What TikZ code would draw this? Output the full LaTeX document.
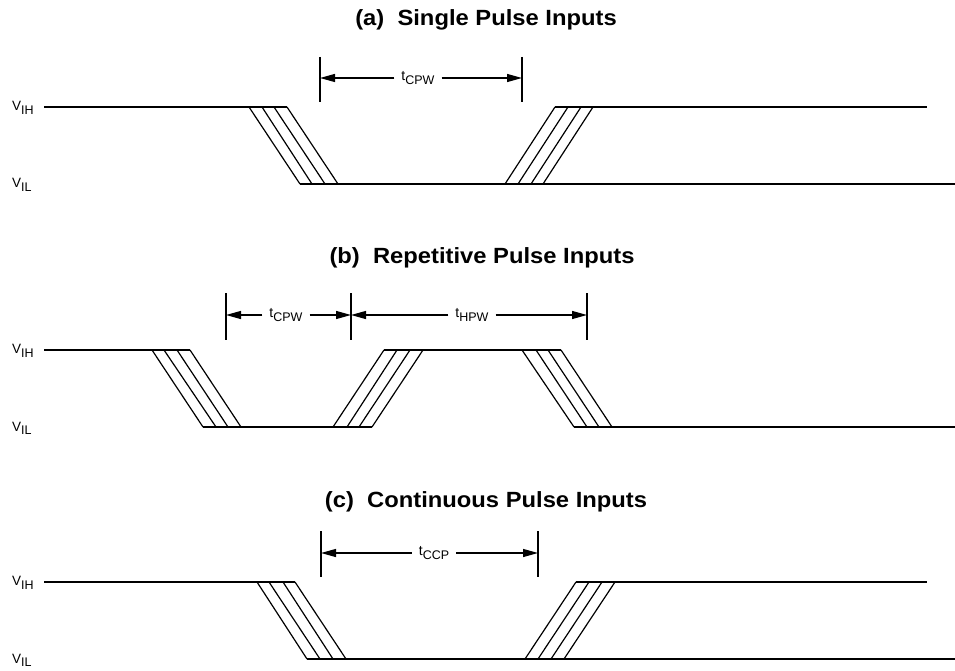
\documentclass[tikz,border=0pt]{standalone}
\usepackage{fontspec}
\setmainfont{Liberation Sans}
\usetikzlibrary{arrows.meta}
\newcommand{\sigsub}[2]{#1\raisebox{-3.8pt}{\fontsize{12.5}{12.5}\selectfont #2}}
\newcommand{\ttl}[1]{\scalebox{1.08}[1]{#1}}
\begin{document}
\begin{tikzpicture}[x=1pt,y=-1pt,
 wave/.style={line width=1.2pt},
 ticks/.style={line width=1.2pt},
 dimarr/.style={line width=1.2pt,-{Triangle[length=15pt,width=8pt]}},
 titlelbl/.style={font=\fontsize{22}{22}\selectfont\bfseries, inner sep=0pt},
 vlbl/.style={font=\fontsize{13.5}{13.5}\selectfont, anchor=base west, inner sep=0pt},
 dimlbl/.style={font=\fontsize{14}{14}\selectfont, inner xsep=7pt, inner ysep=0pt}]
\useasboundingbox (0,0) rectangle (955,671);

% ---------------- (a) ----------------
\node[titlelbl] (ta) at (486,20) {\ttl{(a)\ \ Single Pulse Inputs}};
\node[vlbl] (vihA) at (12,110.5) {\sigsub{V}{IH}};
\node[vlbl] (vilA) at (12,188) {\sigsub{V}{IL}};
\draw[wave] (44,107) -- (287,107);
\foreach \t/\b in {249/300,262/312,274/325,287/338} \draw[wave] (\t,107) -- (\b,184);
\draw[wave] (300,184) -- (955,184);
\foreach \b/\t in {505/555,518/568,531/581,543/593} \draw[wave] (\b,184) -- (\t,107);
\draw[wave] (555,107) -- (927,107);
\coordinate (a1t) at (320,57); \coordinate (a1b) at (320,102);
\coordinate (a2t) at (522,57); \coordinate (a2b) at (522,102);
\draw[ticks] (a1t) -- (a1b);
\draw[ticks] (a2t) -- (a2b);
\node[dimlbl] (tcpwA) at (418,78) {\sigsub{t}{CPW}};
\draw[dimarr] (tcpwA.west) -- (tcpwA.west -| a1t);
\draw[dimarr] (tcpwA.east) -- (tcpwA.east -| a2t);

% ---------------- (b) ----------------
\node[titlelbl] (tb) at (482,258) {\ttl{(b)\ \ Repetitive Pulse Inputs}};
\node[vlbl] (vihB) at (12,353.5) {\sigsub{V}{IH}};
\node[vlbl] (vilB) at (12,431) {\sigsub{V}{IL}};
\draw[wave] (44,350) -- (190,350);
\foreach \t/\b in {152/203,164/216,177/228,190/241} \draw[wave] (\t,350) -- (\b,427);
\draw[wave] (203,427) -- (372,427);
\foreach \b/\t in {333/384,347/397,359/410,372/423} \draw[wave] (\b,427) -- (\t,350);
\draw[wave] (384,350) -- (561,350);
\foreach \t/\b in {522/574,536/587,548/599,561/612} \draw[wave] (\t,350) -- (\b,427);
\draw[wave] (574,427) -- (955,427);
\coordinate (b1t) at (226,293); \coordinate (b1b) at (226,340);
\coordinate (b2t) at (351,293); \coordinate (b2b) at (351,340);
\coordinate (b3t) at (587,293); \coordinate (b3b) at (587,340);
\draw[ticks] (b1t) -- (b1b);
\draw[ticks] (b2t) -- (b2b);
\draw[ticks] (b3t) -- (b3b);
\node[dimlbl] (tcpwB) at (286,315) {\sigsub{t}{CPW}};
\draw[dimarr] (tcpwB.west) -- (tcpwB.west -| b1t);
\draw[dimarr] (tcpwB.east) -- (tcpwB.east -| b2t);
\node[dimlbl] (thpwB) at (472,315) {\sigsub{t}{HPW}};
\draw[dimarr] (thpwB.west) -- (thpwB.west -| b2t);
\draw[dimarr] (thpwB.east) -- (thpwB.east -| b3t);

% ---------------- (c) ----------------
\node[titlelbl] (tc) at (486,502) {\ttl{(c)\ \ Continuous Pulse Inputs}};
\node[vlbl] (vihC) at (12,585.5) {\sigsub{V}{IH}};
\node[vlbl] (vilC) at (12,663) {\sigsub{V}{IL}};
\draw[wave] (44,582) -- (295,582);
\foreach \t/\b in {257/307,269/320,283/333,295/346} \draw[wave] (\t,582) -- (\b,659);
\draw[wave] (307,659) -- (955,659);
\foreach \b/\t in {525/576,538/589,551/602,564/615} \draw[wave] (\b,659) -- (\t,582);
\draw[wave] (576,582) -- (927,582);
\coordinate (c1t) at (321,531); \coordinate (c1b) at (321,577);
\coordinate (c2t) at (538,531); \coordinate (c2b) at (538,577);
\draw[ticks] (c1t) -- (c1b);
\draw[ticks] (c2t) -- (c2b);
\node[dimlbl] (tccpC) at (434,553) {\sigsub{t}{CCP}};
\draw[dimarr] (tccpC.west) -- (tccpC.west -| c1t);
\draw[dimarr] (tccpC.east) -- (tccpC.east -| c2t);
\end{tikzpicture}
\end{document}
